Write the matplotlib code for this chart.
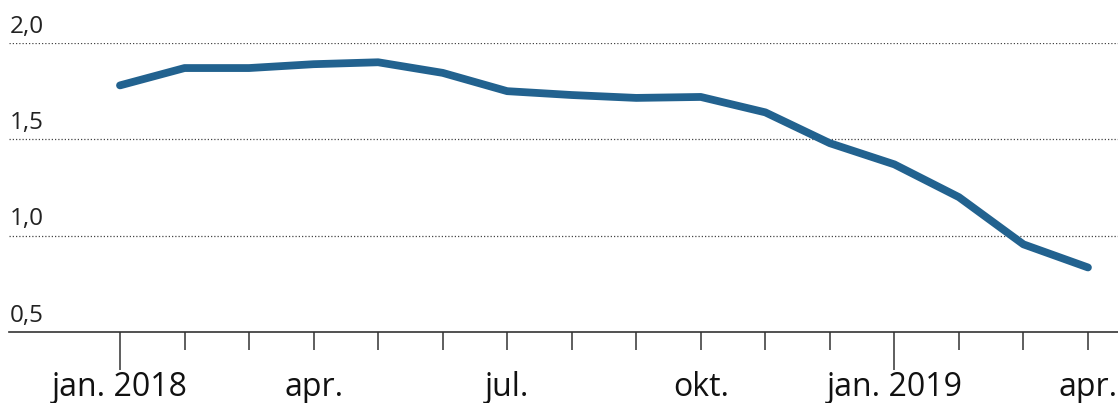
import matplotlib
matplotlib.use("Agg")
import matplotlib.pyplot as plt
import numpy as np

plt.rcParams['font.family'] = ['Open Sans', 'DejaVu Sans']

# månedlige verdier jan. 2018 - apr. 2019
months = ["jan. 2018", "feb", "mar", "apr.", "mai", "jun", "jul.", "aug", "sep",
          "okt.", "nov", "des", "jan. 2019", "feb", "mar", "apr."]
values = [1.78, 1.87, 1.87, 1.89, 1.90, 1.845, 1.75, 1.73, 1.715, 1.72,
          1.64, 1.48, 1.37, 1.20, 0.955, 0.835]
label_idx = [0, 3, 6, 9, 12, 15]
major_idx = [0, 12]
yticks = [0.5, 1.0, 1.5, 2.0]
ylabels = ["0,5", "1,0", "1,5", "2,0"]

W, H = 1118, 403
fig = plt.figure(figsize=(W / 100, H / 100), dpi=100)
ax = fig.add_axes([9 / W, 1 - 332 / H, 1 - 9 / W, (332 - 43) / H])

x = np.arange(len(values))
ax.plot(x, values, color="#22628f", lw=5.6, solid_capstyle="round", solid_joinstyle="round", zorder=3)

ax.set_ylim(0.5, 2.0)
ax.set_xlim((9 - 120) / 64.53, (W - 120) / 64.53)

for y, lab in zip(yticks, ylabels):
    if y > 0.5:
        ax.axhline(y, color="#444444", lw=0.9, ls=(0, (1, 1.6)), zorder=1)
    ax.text(0.001, y + 0.022, lab, transform=ax.get_yaxis_transform(),
            fontsize=17.5, color="#222222", ha="left", va="bottom")

for s in ["top", "right", "left"]:
    ax.spines[s].set_visible(False)
ax.spines["bottom"].set_color("#333333")
ax.spines["bottom"].set_linewidth(1.2)
ax.set_yticks([])

ax.set_xticks(x)
ax.set_xticklabels([months[i] if i in label_idx else "" for i in x], fontsize=23, color="#111111")
ax.tick_params(axis="x", length=13, width=1.1, color="#333333", pad=15)
for i, t in enumerate(ax.xaxis.get_major_ticks()):
    if i in major_idx:
        t.tick1line.set_markersize(27)

fig.savefig("out.png", dpi=100)
